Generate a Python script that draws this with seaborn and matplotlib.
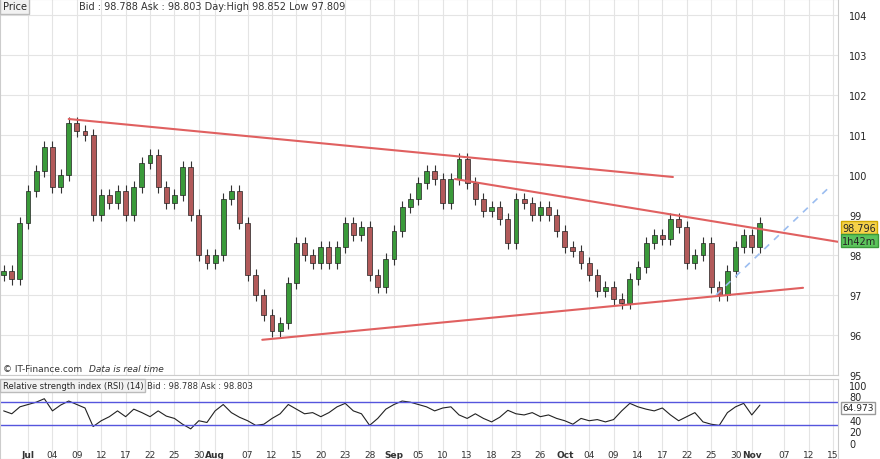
import numpy as np
import pandas as pd
import seaborn as sns
from matplotlib import pyplot as plt
from matplotlib import transforms

# daily closes, Jun 26 2019 -> Nov 4 2019 (business days)
closes_jun = [97.6, 97.4, 98.8]
closes_jul = [99.6, 100.1, 100.7, 99.7, 100.0, 101.3, 101.1, 101.0, 99.0, 99.5, 99.3, 99.6,
              99.0, 99.7, 100.3, 100.5, 99.7, 99.3, 99.5, 100.2, 99.0, 98.0, 97.8]
closes_aug = [98.0, 99.4, 99.6, 98.8, 97.5, 97.0, 96.5, 96.1, 96.3, 97.3, 98.3, 98.0,
              97.8, 98.2, 97.8, 98.2, 98.8, 98.5, 98.7, 97.5, 97.2, 97.9]
closes_sep = [98.6, 99.2, 99.4, 99.8, 100.1, 99.9, 99.3, 99.9, 100.4, 99.8, 99.4, 99.1,
              99.2, 98.9, 98.3, 99.4, 99.3, 99.0, 99.2, 99.0, 98.6]
closes_oct = [98.2, 98.1, 97.8, 97.5, 97.1, 97.2, 96.9, 96.8, 97.4, 97.7, 98.3, 98.5,
              98.4, 98.9, 98.7, 97.8, 98.0, 98.3, 97.2, 97.0, 97.6, 98.2, 98.5]
closes_nov = [98.2, 98.796]

# RSI(14), one value per day
rsi_values = [55, 50, 62, 66, 70, 76, 55, 65, 72, 66, 60, 28, 38, 45, 55, 45, 58, 52, 45, 55,
              46, 42, 32, 24, 38, 35, 55, 66, 52, 44, 38, 30, 32, 42, 50, 66, 58, 50, 52, 45,
              52, 62, 68, 55, 50, 30, 42, 58, 66, 72, 70, 66, 62, 55, 60, 62, 48, 42, 50, 42,
              36, 44, 56, 50, 48, 52, 45, 48, 42, 38, 32, 42, 38, 40, 36, 40, 55, 68, 62, 58,
              55, 60, 48, 38, 45, 52, 36, 32, 30, 52, 62, 68, 48, 64.973]

# trend lines: (bar index, price)
upper_line = [(8, 101.4), (82.3, 99.95)]
middle_line = [(55.5, 99.9), (102.6, 98.33)]
lower_line = [(31.8, 95.88), (98.3, 97.18)]
dashed_line = [(87.6, 97.0), (101.3, 99.65)]

tick_dates = ["2019-07-01", "2019-07-04", "2019-07-09", "2019-07-12", "2019-07-17", "2019-07-22",
              "2019-07-25", "2019-07-30", "2019-08-01", "2019-08-07", "2019-08-12", "2019-08-15",
              "2019-08-20", "2019-08-23", "2019-08-28", "2019-09-02", "2019-09-05", "2019-09-10",
              "2019-09-13", "2019-09-18", "2019-09-23", "2019-09-26", "2019-10-01", "2019-10-04",
              "2019-10-09", "2019-10-14", "2019-10-17", "2019-10-22", "2019-10-25", "2019-10-30",
              "2019-11-01", "2019-11-07", "2019-11-12", "2019-11-15"]
tick_labels = ["Jul", "04", "09", "12", "17", "22", "25", "30", "Aug", "07", "12", "15", "20", "23",
               "28", "Sep", "05", "10", "13", "18", "23", "26", "Oct", "04", "09", "14", "17", "22",
               "25", "30", "Nov", "07", "12", "15"]

closes = np.array(closes_jun + closes_jul + closes_aug + closes_sep + closes_oct + closes_nov)
days = pd.bdate_range("2019-06-26", "2019-11-20")
idx = np.arange(len(closes))
opens = np.r_[closes[0] - 0.1, closes[:-1]]
highs = np.maximum(opens, closes) + 0.15
lows = np.minimum(opens, closes) - 0.15
rsi_df = pd.DataFrame({"x": idx, "rsi": rsi_values})

sns.set_style("white")
fig = plt.figure(figsize=(8.8, 4.6), dpi=100)
ax = fig.add_axes([0, 1 - 376 / 460, 838 / 880, 376 / 460])
ax2 = fig.add_axes([0, 0, 838 / 880, 80 / 460])

xmin, xmax = -0.45, 102.6
tick_pos = [days.get_loc(pd.Timestamp(d)) for d in tick_dates]

# grid
for a in (ax, ax2):
    for t in tick_pos:
        a.axvline(t, color="#e4e4e4", lw=0.8, zorder=0)
for p in range(95, 105):
    ax.axhline(p, color="#e4e4e4", lw=0.8, zorder=0)

# candles
up = closes >= opens
ax.vlines(idx, lows, highs, color="#333333", lw=0.8, zorder=2)
ax.bar(idx[up], (closes - opens)[up], bottom=opens[up], width=0.6, color="#3a9a3a",
       edgecolor="#222222", linewidth=0.5, zorder=3)
ax.bar(idx[~up], (opens - closes)[~up], bottom=closes[~up], width=0.6, color="#b25a5a",
       edgecolor="#222222", linewidth=0.5, zorder=3)

for line in (upper_line, middle_line, lower_line):
    df = pd.DataFrame(line, columns=["x", "y"])
    sns.lineplot(data=df, x="x", y="y", ax=ax, color="#e06060", lw=1.5, zorder=4)
df = pd.DataFrame(dashed_line, columns=["x", "y"])
sns.lineplot(data=df, x="x", y="y", ax=ax, color="#9bbdf0", lw=1.2, ls=(0, (4, 4)), zorder=4)

ax.set_xlim(xmin, xmax)
ax.set_ylim(95, 104.4)
ax.set_xticks([])
ax.yaxis.tick_right()
ax.set_yticks(range(95, 105))
ax.tick_params(axis="y", labelsize=7, length=0, pad=8)
ax.set_xlabel("")
ax.set_ylabel("")
for s in ax.spines.values():
    s.set_color("#cccccc")

ax.text(0.003, 0.995, "Price", transform=ax.transAxes, fontsize=7, va="top",
        bbox=dict(facecolor="#f2f2f2", edgecolor="#bbbbbb", pad=2))
ax.text(0.094, 0.995, "Bid : 98.788 Ask : 98.803 Day:High 98.852 Low 97.809",
        transform=ax.transAxes, fontsize=7, va="top", color="#333333")
ax.text(0.003, 0.01, "© IT-Finance.com", transform=ax.transAxes, fontsize=6.5, color="#333333")
ax.text(0.106, 0.01, "Data is real time", transform=ax.transAxes, fontsize=6.5,
        color="#333333", style="italic")
blend = transforms.blended_transform_factory(ax.transAxes, ax.transData)
ax.text(1.005, 98.68, "98.796", transform=blend, fontsize=7, va="center",
        bbox=dict(facecolor="#f5d24a", edgecolor="#d0a800", pad=1))
ax.text(1.005, 98.36, "1h42m", transform=blend, fontsize=7, va="center",
        bbox=dict(facecolor="#5cc45c", edgecolor="#3a9a3a", pad=1))

# RSI panel
sns.lineplot(data=rsi_df, x="x", y="rsi", ax=ax2, color="#222222", lw=0.8)
ax2.axhline(70, color="#5555dd", lw=1)
ax2.axhline(30, color="#5555dd", lw=1)
ax2.set_xlim(xmin, xmax)
ax2.set_ylim(-28, 110)
ax2.set_xticks([])
ax2.yaxis.tick_right()
ax2.set_yticks([0, 20, 40, 80, 100])
ax2.tick_params(axis="y", labelsize=7, length=0, pad=8)
ax2.set_xlabel("")
ax2.set_ylabel("")
for s in ax2.spines.values():
    s.set_color("#cccccc")
blend2 = transforms.blended_transform_factory(ax2.transAxes, ax2.transData)
ax2.text(1.005, 60, "64.973", transform=blend2, fontsize=6.5, va="center",
         bbox=dict(facecolor="white", edgecolor="#999999", pad=1))
ax2.text(0.003, 0.97, "Relative strength index (RSI) (14)", transform=ax2.transAxes, fontsize=6,
         va="top", bbox=dict(facecolor="#f2f2f2", edgecolor="#bbbbbb", pad=1.5))
ax2.text(0.175, 0.97, "Bid : 98.788 Ask : 98.803", transform=ax2.transAxes, fontsize=6,
         va="top", color="#333333")
for t, lab in zip(tick_pos, tick_labels):
    bold = not lab.isdigit()
    ax2.text(t, -20, lab, ha="center", va="center", fontsize=6.5,
             fontweight="bold" if bold else "normal", color="#333333")

fig.savefig("out.png", dpi=100)
